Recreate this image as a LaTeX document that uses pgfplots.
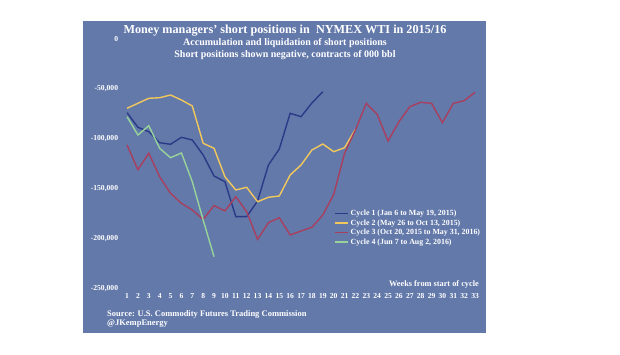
\documentclass[border=0pt]{standalone}
\usepackage{pgfplots}
\pgfplotsset{compat=1.18}
\usepackage{fontspec}
\setmainfont{Liberation Serif}
\definecolor{bgblue}{RGB}{99,121,170}
\definecolor{cyc1}{RGB}{43,58,135}
\definecolor{cyc2}{RGB}{242,199,92}
\definecolor{cyc3}{RGB}{168,63,95}
\definecolor{cyc4}{RGB}{152,211,154}
\begin{document}
\begin{tikzpicture}
\fill[white] (0pt,0pt) rectangle (620pt,355pt);
\fill[bgblue] (83pt,22pt) rectangle (486pt,334pt);
\begin{axis}[
  scale only axis,
  at={(121.6pt,66pt)}, anchor=south west,
  width=358.9pt, height=250pt,
  xmin=0.5, xmax=33.5, ymin=-250000, ymax=0,
  axis line style={draw=none},
  tick style={draw=none},
  xtick={1,...,33},
  ytick={-250000,-200000,-150000,-100000,-50000,0},
  yticklabels={{-250,000},{-200,000},{-150,000},{-100,000},{-50,000},0},
  scaled y ticks=false,
  ticklabel style={font=\fontsize{7.6}{8}\selectfont\bfseries, text=white},
  /pgf/number format/assume math mode=true,
  xticklabel style={yshift=-1pt},
  legend cell align=left,
  legend style={at={(0.592,0.324)}, anchor=north west, draw=none, fill=none,
    text=white, font=\fontsize{7.9}{8.5}\selectfont\bfseries, row sep=-1.5pt,
    inner sep=0pt},
  legend image code/.code={\draw[#1] (0pt,0pt) -- (13pt,0pt);},
  every axis plot/.append style={line width=1.4pt},
]
\addplot[cyc1] coordinates {(1,-73700) (2,-88300) (3,-92700) (4,-103700) (5,-105300) (6,-98300) (7,-101000) (8,-116000) (9,-137000) (10,-142700) (11,-177700) (12,-177700) (13,-162000) (14,-126000) (15,-110000) (16,-74300) (17,-77700) (18,-64000) (19,-52700)};
\addlegendentry{Cycle 1 (Jan 6 to May 19, 2015)}
\addplot[cyc2] coordinates {(1,-69300) (2,-64300) (3,-59300) (4,-58700) (5,-56000) (6,-61000) (7,-67000) (8,-104300) (9,-109300) (10,-137700) (11,-151000) (12,-148300) (13,-162700) (14,-158300) (15,-157000) (16,-136000) (17,-126000) (18,-111000) (19,-105000) (20,-112700) (21,-108700) (22,-90300)};
\addlegendentry{Cycle 2 (May 26 to Oct 13, 2015)}
\addplot[cyc3] coordinates {(1,-106000) (2,-130700) (3,-114300) (4,-137700) (5,-154300) (6,-164300) (7,-171000) (8,-180500) (9,-166500) (10,-172000) (11,-157700) (12,-172700) (13,-200300) (14,-183700) (15,-178700) (16,-196000) (17,-192000) (18,-188300) (19,-176000) (20,-155500) (21,-114300) (22,-91000) (23,-64300) (24,-75300) (25,-102000) (26,-82700) (27,-67700) (28,-63300) (29,-64300) (30,-83700) (31,-64300) (32,-61700) (33,-53300)};
\addlegendentry{Cycle 3 (Oct 20, 2015 to May 31, 2016)}
\addplot[cyc4] coordinates {(1,-77700) (2,-96000) (3,-86700) (4,-109300) (5,-118700) (6,-114000) (7,-142700) (8,-181000) (9,-217700)};
\addlegendentry{Cycle 4 (Jun 7 to Aug 2, 2016)}
\end{axis}
\node[text=white, font=\fontsize{12.2}{13}\selectfont\bfseries] at (285pt,324.3pt) {Money managers' short positions in \ NYMEX WTI in 2015/16};
\node[text=white, font=\fontsize{10}{11}\selectfont\bfseries] at (285pt,311.7pt) {Accumulation and liquidation of short positions};
\node[text=white, font=\fontsize{10}{11}\selectfont\bfseries] at (285pt,300pt) {Short positions shown negative, contracts of 000 bbl};
\node[text=white, font=\fontsize{8.3}{9}\selectfont\bfseries, anchor=east, inner sep=0pt] at (479pt,71pt) {Weeks from start of cycle};
\node[text=white, font=\fontsize{8.5}{9}\selectfont\bfseries, anchor=west, inner sep=0pt] at (107pt,41pt) {Source: U.S. Commodity Futures Trading Commission};
\node[text=white, font=\fontsize{8.5}{9}\selectfont\bfseries, anchor=west, inner sep=0pt] at (107pt,31pt) {@JKempEnergy};
\end{tikzpicture}
\end{document}
